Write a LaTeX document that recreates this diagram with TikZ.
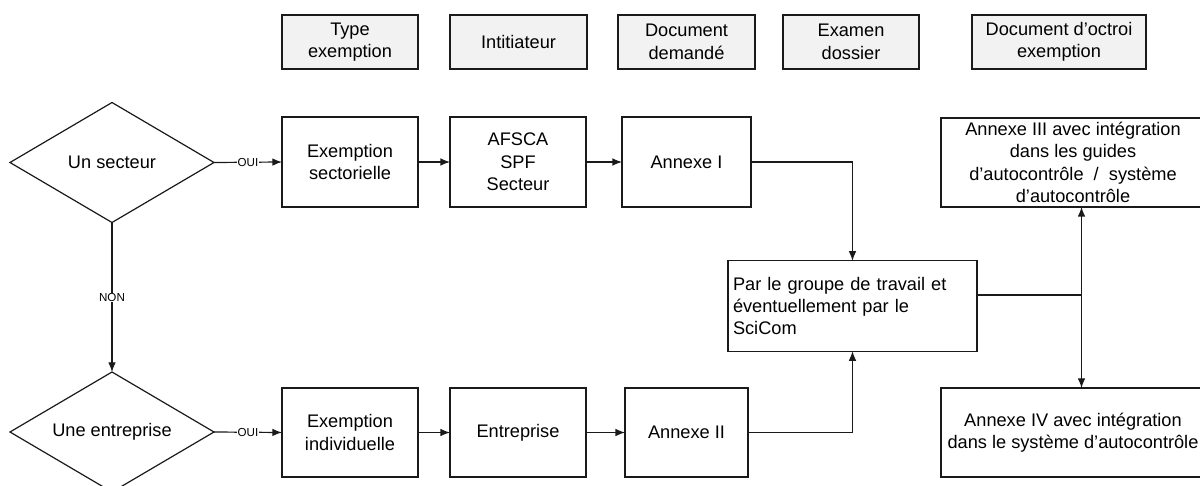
\documentclass[tikz,border=0pt]{standalone}
\usepackage{fontspec}
\setmainfont{Liberation Sans}
\usetikzlibrary{shapes.geometric,arrows.meta}
\definecolor{hdrfill}{HTML}{F2F2F2}
\definecolor{linecol}{HTML}{1A1A1A}
\begin{document}
\begin{tikzpicture}[x=0.5pt,y=-0.5pt,
  every node/.style={font=\fontsize{9.1pt}{11.2pt}\selectfont, inner sep=0pt, outer sep=0pt},
  box/.style={draw=linecol, line width=0.6pt, fill=white, align=center},
  hdr/.style={box, fill=hdrfill, minimum height=27pt},
  dec/.style={draw=linecol, line width=0.6pt, diamond, shape aspect=1.7, minimum width=102pt, minimum height=60pt},
  arr/.style={draw=linecol, line width=0.6pt, -{Latex[length=4.8pt,width=3.8pt]}},
  ln/.style={draw=linecol, line width=0.6pt},
  lbl/.style={font=\fontsize{5.8pt}{6.5pt}\selectfont, fill=white, inner sep=0.3pt}
]
\useasboundingbox (0,0) rectangle (1200,486);

% header
\node[hdr, minimum width=68pt]   (hType)   at (350,42)    {Type\\exemption};
\node[hdr, minimum width=68.5pt] (hInit)   at (518.5,42)  {Intitiateur};
\node[hdr, minimum width=68.5pt] (hDoc)    at (686.5,42)  {Document\\demandé};
\node[hdr, minimum width=68pt]   (hExam)   at (851,42)    {Examen\\dossier};
\node[hdr, minimum width=87pt]   (hOctroi) at (1059,42)   {Document d’octroi\\exemption};

% decisions
\node[dec] (d1) at (112,162.5) {Un secteur};
\node[dec] (d2) at (112,432)   {Une entreprise};

% row 1
\node[box, minimum width=68pt, minimum height=45pt]   (sect)  at (350,162)   {Exemption\\sectorielle};
\node[box, minimum width=68pt, minimum height=45pt]   (afsca) at (518,162)   {AFSCA\\SPF\\Secteur};
\node[box, minimum width=64.5pt, minimum height=45pt] (ann1)  at (686.5,162) {Annexe I};

% row 2
\node[box, minimum width=68pt, minimum height=44.5pt]   (indiv) at (350,432.5)   {Exemption\\individuelle};
\node[box, minimum width=68pt, minimum height=44.5pt]   (entr)  at (518,432.5)   {Entreprise};
\node[box, minimum width=61.5pt, minimum height=44.5pt] (ann2)  at (686.5,432.5) {Annexe II};

% examen
\node[box, minimum width=124.5pt, minimum height=45.2pt, text width=119.5pt, align=left] (exam) at (852.5,306)
  {Par le groupe de travail et\\éventuellement par le\\SciCom};

% outcomes
\node[box, minimum width=132pt, minimum height=44.5pt] (ann3) at (1073,162.5)
  {Annexe III avec intégration\\dans les guides\\d’autocontrôle \ / \ système\\d’autocontrôle};
\node[box, minimum width=132pt, minimum height=44.5pt] (ann4) at (1073,432.5)
  {Annexe IV avec intégration\\dans le système d’autocontrôle};

% connectors
\draw[arr] (d1.east) -- node[lbl] {OUI} (sect.west);
\draw[arr] (d2.east) -- node[lbl] {OUI} (indiv.west);
\draw[arr] (d1.south) -- node[lbl] {NON} (d2.north);

\draw[arr] (sect) -- (afsca);
\draw[arr] (afsca) -- (ann1);
\draw[arr] (indiv) -- (entr);
\draw[arr] (entr) -- (ann2);

\draw[arr] (ann1.east) -| (exam.north);
\draw[arr] (ann2.east) -| (exam.south);

\coordinate (j) at (1081.5,295);
\draw[ln] (exam.east |- j) -- (j);
\draw[arr] (j) -- (j |- ann3.south);
\draw[arr] (j) -- (j |- ann4.north);
\end{tikzpicture}
\end{document}
